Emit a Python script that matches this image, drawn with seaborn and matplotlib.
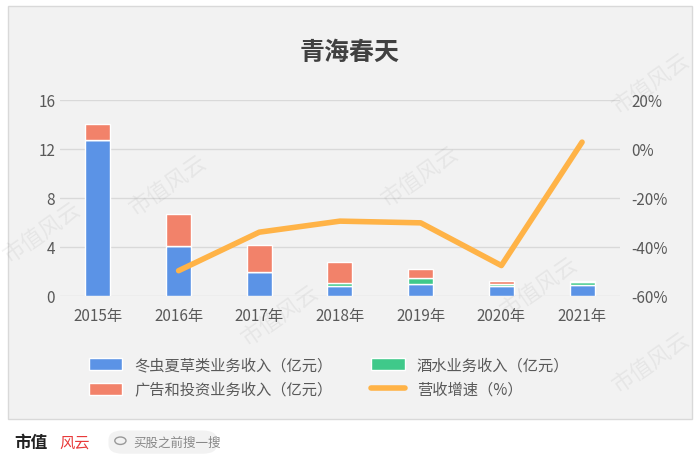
import matplotlib
matplotlib.use("Agg")
import matplotlib.pyplot as plt
import seaborn as sns
import numpy as np
import pandas as pd
from matplotlib.patches import FancyBboxPatch, Circle

years = ["2015年", "2016年", "2017年", "2018年", "2019年", "2020年", "2021年"]
cordyceps = [12.7, 4.05, 1.93, 0.84, 0.98, 0.79, 0.90]
liquor = [0.0, 0.0, 0.0, 0.22, 0.49, 0.21, 0.22]
ads = [1.3, 2.65, 2.23, 1.74, 0.73, 0.20, 0.08]
growth_years = ["2016年", "2017年", "2018年", "2019年", "2020年", "2021年"]
growth = [-49.7, -34.0, -29.5, -30.2, -47.6, 2.7]

sns.set_theme(style="white")
plt.rcParams['font.family'] = ['Noto Sans CJK SC', 'DejaVu Sans']

fig = plt.figure(figsize=(7, 4.64), dpi=100)
fig.patch.set_facecolor("#ffffff")
bg = FancyBboxPatch((0.012, 0.095), 0.976, 0.89, boxstyle="square,pad=0", transform=fig.transFigure,
                    facecolor="#f2f2f2", edgecolor="#d9d9d9", lw=1, zorder=-10)
fig.patches.append(bg)

ax = fig.add_axes([0.0857, 0.36, 0.8, 0.423])
ax.set_facecolor("#f2f2f2")
x = np.arange(len(years))
df = pd.DataFrame({"year": years, "c": cordyceps, "l": liquor, "a": ads})
blue, green, red, orange = "#5b93e6", "#3fc98a", "#f2826a", "#ffb347"
sns.barplot(data=df, x="year", y="c", color=blue, width=0.31, ax=ax, saturation=1, label="冬虫夏草类业务收入（亿元）")
ax.bar(x, liquor, bottom=cordyceps, width=0.31, color=green, label="酒水业务收入（亿元）")
ax.bar(x, ads, bottom=np.array(cordyceps) + np.array(liquor), width=0.31, color=red, label="广告和投资业务收入（亿元）")
if ax.get_legend():
    ax.get_legend().remove()
ax.set_ylim(0, 16)
ax.set_yticks([0, 4, 8, 12, 16])
ax.yaxis.grid(True, color="#d9d9d9", lw=1)
ax.set_axisbelow(True)
ax.set_xlim(-0.47, 6.47)
ax.set_xlabel(""); ax.set_ylabel("")
for s in ax.spines.values():
    s.set_visible(False)
ax.tick_params(axis="both", length=0, labelsize=11, labelcolor="#595959")
ax.tick_params(axis="x", pad=8)

ax2 = ax.twinx()
gx = [years.index(g) for g in growth_years]
ax2.plot(gx, growth, color=orange, lw=4, solid_capstyle="round", label="营收增速（%）")
ax2.set_ylim(-60, 20)
ax2.set_yticks([-60, -40, -20, 0, 20])
ax2.set_yticklabels([f"{v}%" for v in [-60, -40, -20, 0, 20]])
for s in ax2.spines.values():
    s.set_visible(False)
ax2.tick_params(axis="y", length=0, labelsize=11, labelcolor="#595959", pad=8)

h1, l1 = ax.get_legend_handles_labels()
h2, l2 = ax2.get_legend_handles_labels()
hs = h1 + h2; ls = l1 + l2
order = [0, 2, 1, 3]
fig.legend([hs[i] for i in order], [ls[i] for i in order], ncol=2, loc="center",
           bbox_to_anchor=(0.47, 0.185), frameon=False, fontsize=11, labelcolor="#595959",
           handlelength=2.2, columnspacing=2.5, handleheight=0.8)

fig.text(0.5, 0.885, "青海春天", ha="center", va="center", fontsize=18, fontweight="bold", color="#404040")

for (wx, wy) in [(0.24, 0.6), (0.6, 0.62), (0.93, 0.82), (0.06, 0.5), (0.4, 0.32), (0.77, 0.38), (0.93, 0.22)]:
    fig.text(wx, wy, "市值风云", fontsize=16, color="#000000", alpha=0.05, rotation=35, ha="center", va="center")

fig.text(0.02, 0.045, "市值", fontsize=12, fontweight="bold", color="#222222", va="center")
fig.text(0.085, 0.045, "风云", fontsize=11, color="#e83a3a", va="center", style="italic")
box = FancyBboxPatch((0.155, 0.02), 0.155, 0.05, boxstyle="round,pad=0,rounding_size=0.02",
                     transform=fig.transFigure, facecolor="#f2f2f2", edgecolor="none")
fig.patches.append(box)
fig.patches.append(Circle((0.172, 0.048), 0.008, transform=fig.transFigure, fill=False, edgecolor="#999999", lw=1))
fig.text(0.19, 0.045, "买股之前搜一搜", fontsize=9, color="#888888", va="center")

fig.savefig("out.png", dpi=100, facecolor=fig.get_facecolor())
